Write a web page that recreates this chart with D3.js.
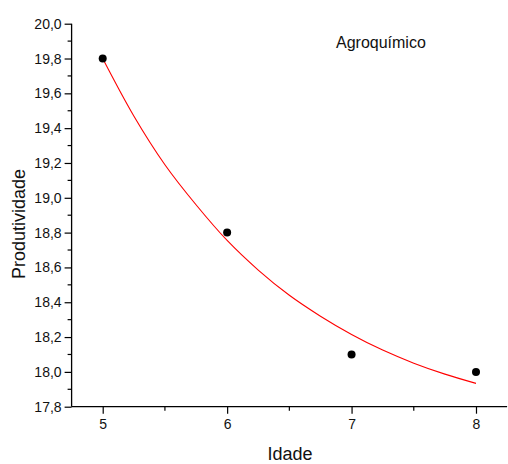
<!DOCTYPE html>
<html><head><meta charset="utf-8">
<script src="https://cdn.jsdelivr.net/npm/d3@7"></script>
<style>body{margin:0;background:#fff}svg{display:block}</style>
</head><body>
<script>
const idade = [5, 6, 7, 8];
const produtividade = [19.8, 18.8, 18.1, 18.0];
const fitX = [5, 5.25, 5.5, 5.75, 6, 6.25, 6.5, 6.75, 7, 7.25, 7.5, 7.75, 8];
const fitY = [19.80, 19.47, 19.19, 18.96, 18.755, 18.585, 18.44, 18.32, 18.215, 18.125, 18.05, 17.987, 17.934];
const xTicks = [5, 6, 7, 8];
const yTicks = [17.8, 18.0, 18.2, 18.4, 18.6, 18.8, 19.0, 19.2, 19.4, 19.6, 19.8, 20.0];
const legendText = "Agroquímico";

const W = 508, H = 464;
const svg = d3.select("body").append("svg").attr("width", W).attr("height", H);
const font = "Arial, 'Liberation Sans', sans-serif";
const x = d3.scaleLinear().domain([4.75, 8.25]).range([71.6, 507.1]);
const y = d3.scaleLinear().domain([17.8, 20.0]).range([406.7, 23.7]);

const g = svg.append("g").attr("font-family", font);

// minor ticks
const xMinor = [5.5, 6.5, 7.5];
g.selectAll(".xm").data(xMinor).enter().append("line")
  .attr("x1", d => x(d)).attr("x2", d => x(d))
  .attr("y1", y(17.8)).attr("y2", y(17.8) + 4)
  .attr("stroke", "#000").attr("stroke-width", 1.2);
const yMinor = d3.range(11).map(i => 17.9 + i * 0.2);
g.selectAll(".ym").data(yMinor).enter().append("line")
  .attr("x1", x(4.75) - 4).attr("x2", x(4.75))
  .attr("y1", d => y(d)).attr("y2", d => y(d))
  .attr("stroke", "#000").attr("stroke-width", 1.2);

// axes
const xAxis = d3.axisBottom(x).tickValues(xTicks).tickSize(7).tickPadding(5).tickFormat(d3.format("d"));
const yAxis = d3.axisLeft(y).tickValues(yTicks).tickSize(7).tickPadding(3)
  .tickFormat(d => d3.format(".1f")(d).replace(".", ","));

const gx = g.append("g").attr("transform", `translate(0,${y(17.8)})`).call(xAxis);
const gy = g.append("g").attr("transform", `translate(${x(4.75)},0)`).call(yAxis);
[gx, gy].forEach(a => {
  a.select(".domain").attr("stroke", "#000").attr("stroke-width", 1.3)
    .attr("d", a === gx ? `M${x(4.75)},0H${x(8.25)}` : `M0,${y(17.8)}V${y(20)}`);
  a.selectAll(".tick line").attr("stroke", "#000").attr("stroke-width", 1.2);
  a.selectAll(".tick text").attr("font-size", 14).attr("font-family", font).attr("fill", "#111");
});

// fitted curve
const line = d3.line().x((d, i) => x(fitX[i])).y(d => y(d)).curve(d3.curveCatmullRom);
g.append("path").datum(fitY).attr("d", line)
  .attr("fill", "none").attr("stroke", "#ff0000").attr("stroke-width", 1.1);

// points
g.selectAll(".pt").data(idade).enter().append("circle")
  .attr("cx", d => x(d)).attr("cy", (d, i) => y(produtividade[i]))
  .attr("r", 4).attr("fill", "#000");

// labels
g.append("text").attr("x", 290).attr("y", 460).attr("text-anchor", "middle")
  .attr("font-size", 18).attr("fill", "#111").text("Idade");
g.append("text").attr("transform", "translate(25,224) rotate(-90)").attr("text-anchor", "middle")
  .attr("font-size", 18).attr("fill", "#111").text("Produtividade");
g.append("text").attr("x", 336).attr("y", 48).attr("font-size", 16).attr("fill", "#111").text(legendText);
</script>
</body></html>
